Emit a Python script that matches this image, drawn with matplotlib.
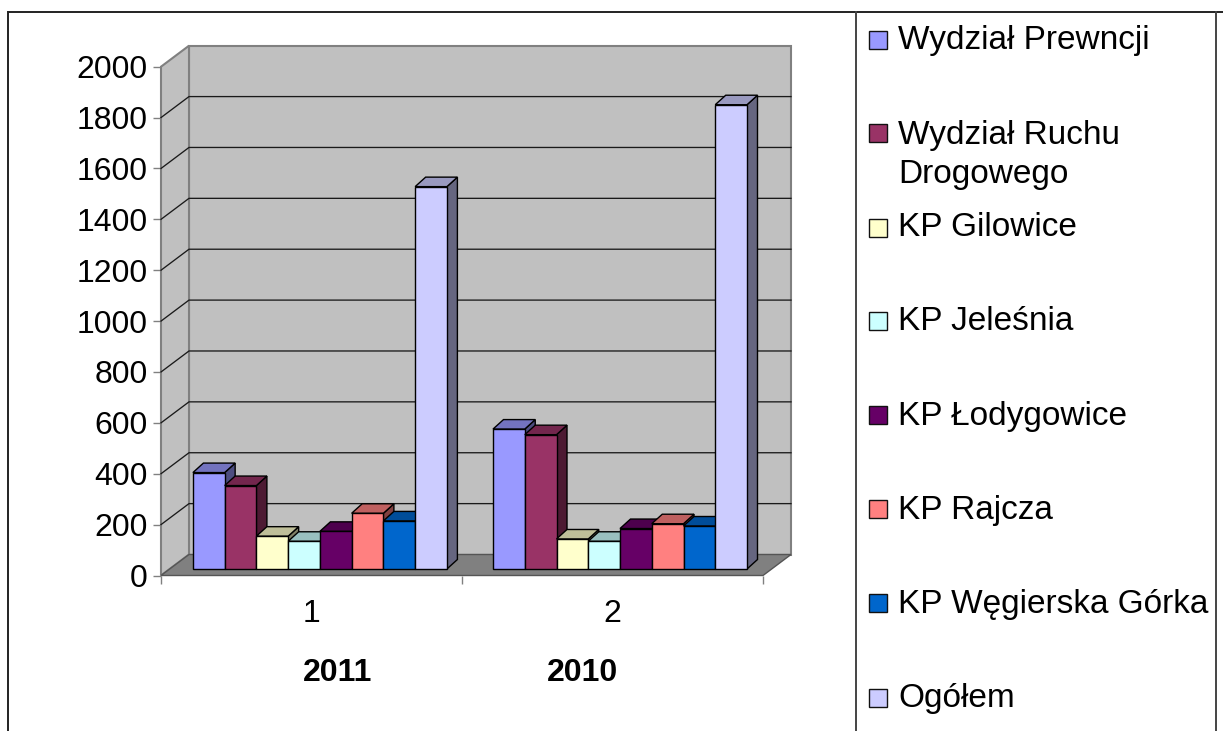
import matplotlib
matplotlib.use("Agg")
import matplotlib.pyplot as plt
from matplotlib.patches import Polygon, Rectangle
from matplotlib.colors import to_rgb

plt.rcParams['font.family'] = ['Liberation Sans', 'DejaVu Sans']

# ---- data ----
categories = [1, 2]
category_names = ["2011", "2010"]
series_names = ["Wydział Prewncji", "Wydział Ruchu\nDrogowego", "KP Gilowice", "KP Jeleśnia",
                "KP Łodygowice", "KP Rajcza", "KP Węgierska Górka", "Ogółem"]
wydzial_prewencji = [379, 550]
wydzial_ruchu = [328, 528]
kp_gilowice = [129, 118]
kp_jelesnia = [109, 109]
kp_lodygowice = [148, 159]
kp_rajcza = [219, 178]
kp_wegierska = [189, 169]
ogolem = [1503, 1825]
series = [wydzial_prewencji, wydzial_ruchu, kp_gilowice, kp_jelesnia,
          kp_lodygowice, kp_rajcza, kp_wegierska, ogolem]
colors = ["#9999FF", "#993366", "#FFFFCC", "#CCFFFF", "#660066", "#FF8080", "#0066CC", "#CCCCFF"]
y_ticks = list(range(0, 2001, 200))

W, H = 1223, 731
fig = plt.figure(figsize=(W / 100, H / 100), dpi=100, facecolor="white")

# overlay in pixel coordinates: page frame, legend, year captions
pg = fig.add_axes([0, 0, 1, 1], zorder=0)
pg.set_xlim(0, W); pg.set_ylim(H, 0); pg.axis("off")
for xs, ys, c in [((8, 1223), (11.5, 11.5), "#222222"), ((8, 8), (11, 731), "#222222"),
                  ((856, 856), (11, 731), "#444444"), ((1216, 1216), (11, 731), "#444444")]:
    pg.plot(xs, ys, color=c, lw=1.4, solid_capstyle="butt")

legend_text_y = [40, 155, 228, 322, 416, 510, 604, 698]
legend_box_y = [40, 133, 228, 321, 415, 509, 603, 698]
for name, c, ty, by in zip(series_names, colors, legend_text_y, legend_box_y):
    pg.add_patch(Rectangle((869, by - 9), 18, 18, facecolor=c, edgecolor="#111111", lw=1.0))
    pg.text(898, ty, name, fontsize=24, va="center", ha="left", color="black", linespacing=1.3)
for name, x in zip(category_names, (338, 583)):
    pg.text(x, 673, name, fontsize=23, fontweight="bold", ha="center", va="center", color="black")

# chart axes: the front plane of the 3D box
L, R, Y0, Y2000 = 161, 763, 575.5, 66.7
ax = fig.add_axes([L / W, (H - Y0) / H, (R - L) / W, (Y0 - Y2000) / H], zorder=1)
ax.set_xlim(0.5, 2.5)
ax.set_ylim(0, 2000)
ax.patch.set_visible(False)
for s in ax.spines.values():
    s.set_visible(False)

px = 2.0 / (R - L)          # data units per pixel, x
py = 2000.0 / (Y0 - Y2000)  # data units per pixel, y
x0, x1 = 0.5, 2.5
wdx, wdy = 28 * px, 21 * py

# walls and floor
wall_edge = "#808080"
ax.add_patch(Polygon([(x0 + wdx, wdy), (x1 + wdx, wdy), (x1 + wdx, 2000 + wdy), (x0 + wdx, 2000 + wdy)],
                     closed=True, fc="#C0C0C0", ec=wall_edge, lw=1.5, clip_on=False, zorder=1))
ax.add_patch(Polygon([(x0, 0), (x0 + wdx, wdy), (x0 + wdx, 2000 + wdy), (x0, 2000)],
                     closed=True, fc="#C0C0C0", ec=wall_edge, lw=1.5, clip_on=False, zorder=1))
ax.add_patch(Polygon([(x0, 0), (x1, 0), (x1 + wdx, wdy), (x0 + wdx, wdy)],
                     closed=True, fc="#808080", ec="#555555", lw=1.0, clip_on=False, zorder=1))
for t in y_ticks[1:-1]:
    ax.plot([x0, x0 + wdx, x1 + wdx], [t, t + wdy, t + wdy], color="#1a1a1a", lw=0.95,
            clip_on=False, zorder=2)

# bars
bw = 31.75 * px
shift_x = [8.4 * px, 7.5 * px]
base = 6.5 * py
dx, dy = 10.5 * px, 9.5 * py


def shade(c, f):
    return tuple(v * f for v in to_rgb(c))


for i, (vals, c) in enumerate(zip(series, colors)):
    z = 3 + i
    xs = [k + s + (i - 3.5) * bw for k, s in zip(categories, shift_x)]
    for xc, v in zip(xs, vals):
        l, r = xc - bw / 2, xc + bw / 2
        top = base + v
        ax.add_patch(Polygon([(r, base), (r + dx, base + dy), (r + dx, top + dy), (r, top)], closed=True,
                             fc=shade(c, 0.5), ec="black", lw=1.0, clip_on=False, zorder=z))
        ax.add_patch(Polygon([(l, top), (r, top), (r + dx, top + dy), (l + dx, top + dy)], closed=True,
                             fc=shade(c, 0.75), ec="black", lw=1.0, clip_on=False, zorder=z))
    ax.bar(xs, vals, width=bw, bottom=base, color=c, edgecolor="black", linewidth=1.0,
           clip_on=False, zorder=z + 0.5)

# ticks
ax.set_yticks(y_ticks)
ax.tick_params(axis="y", length=5.8, width=1.0, color="#808080", pad=4, labelsize=23, labelcolor="black")
ax.set_xticks(categories)
ax.set_xticks([0.5, 1.5, 2.5], minor=True)
ax.tick_params(axis="x", which="major", length=0, pad=17, labelsize=23, labelcolor="black")
ax.tick_params(axis="x", which="minor", length=5.8, width=1.0, color="#808080")

fig.savefig("out.png", dpi=100, facecolor="white")
